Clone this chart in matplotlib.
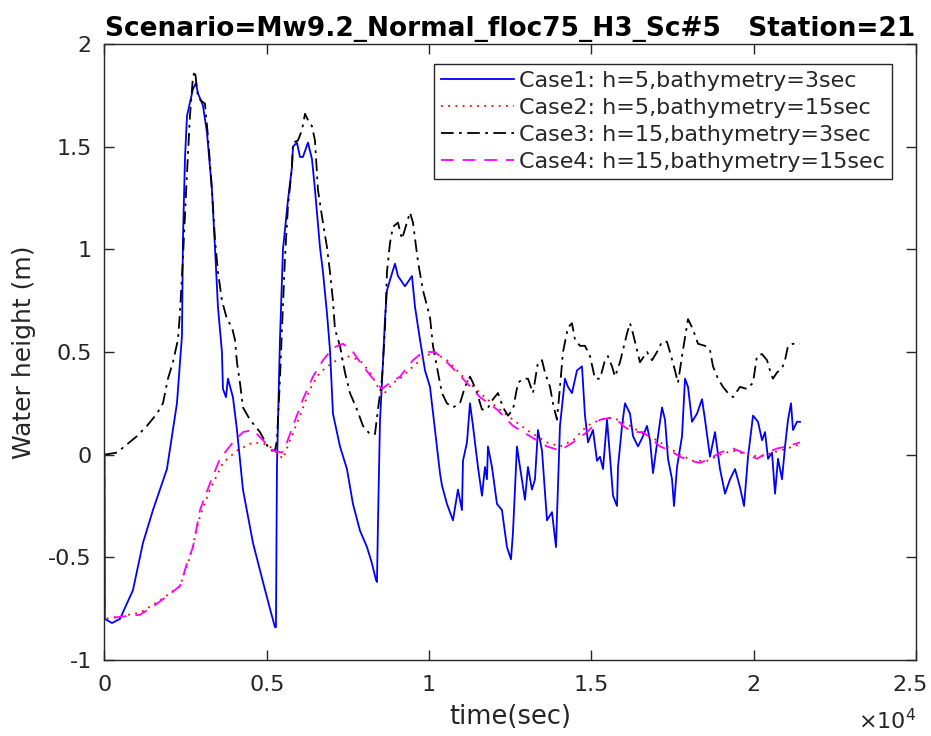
import numpy as np
import matplotlib
matplotlib.use("Agg")
import matplotlib.pyplot as plt
from matplotlib.ticker import FixedLocator
from matplotlib.transforms import ScaledTranslation

# ---- data (time in seconds, water height in metres) ----
t_case1 = [0, 15, 231, 477, 878, 1186, 1494, 1925, 2233, 2388, 2418, 2480, 2542, 2726,
           2819, 2880, 3034, 3157, 3311, 3404, 3496, 3619, 3650, 3743, 3804, 3958, 4082,
           4266, 4575, 4883, 5098, 5252, 5283, 5314, 5376, 5406, 5499, 5653, 5776, 5807,
           5930, 6023, 6115, 6269, 6392, 6485, 6639, 6731, 6854, 6947, 7039, 7255, 7470,
           7655, 7871, 8087, 8241, 8364, 8395, 8426, 8487, 8580, 8641, 8703, 8795, 8949,
           9042, 9257, 9473, 9566, 9720, 9874, 10028, 10182, 10336, 10397, 10551, 10736,
           10890, 11013, 11044, 11167, 11260, 11352, 11506, 11629, 11722, 11783, 11814,
           11937, 12091, 12245, 12399, 12523, 12584, 12707, 12800, 12954, 13046, 13169,
           13262, 13354, 13478, 13632, 13786, 13909, 14032, 14186, 14279, 14402, 14556,
           14710, 14803, 14895, 15049, 15173, 15265, 15358, 15481, 15573, 15666, 15789,
           15820, 15943, 16035, 16189, 16282, 16436, 16590, 16713, 16806, 16898, 17052,
           17176, 17268, 17360, 17484, 17545, 17638, 17792, 17884, 17977, 18100, 18254,
           18408, 18500, 18654, 18808, 18962, 19117, 19271, 19425, 19579, 19702, 19825,
           19979, 20133, 20257, 20349, 20441, 20564, 20657, 20749, 20872, 20965, 21057,
           21149, 21211, 21334, 21426]
h_case1 = [0.0, -0.80, -0.82, -0.80, -0.66, -0.43, -0.27, -0.07, 0.25, 0.58, 1.05, 1.44,
           1.65, 1.78, 1.81, 1.76, 1.70, 1.57, 1.29, 1.01, 0.72, 0.50, 0.32, 0.28, 0.37,
           0.28, 0.12, -0.17, -0.43, -0.62, -0.75, -0.84, -0.84, -0.05, 0.35, 0.56, 1.00,
           1.24, 1.40, 1.50, 1.52, 1.45, 1.45, 1.52, 1.44, 1.29, 1.01, 0.89, 0.69, 0.51,
           0.20, 0.04, -0.07, -0.24, -0.37, -0.45, -0.53, -0.61, -0.62, -0.33, 0.16, 0.45,
           0.66, 0.80, 0.85, 0.93, 0.87, 0.82, 0.87, 0.72, 0.56, 0.41, 0.33, 0.12, -0.09,
           -0.15, -0.24, -0.32, -0.17, -0.27, -0.03, 0.06, 0.25, 0.14, -0.06, -0.20, -0.06,
           -0.12, 0.04, -0.06, -0.24, -0.27, -0.45, -0.51, -0.38, 0.04, -0.06, -0.22, -0.06,
           -0.17, -0.12, 0.12, 0.02, -0.32, -0.28, -0.45, 0.14, 0.37, 0.33, 0.30, 0.41,
           0.43, 0.19, 0.06, 0.12, -0.03, -0.01, -0.07, 0.17, -0.01, -0.20, -0.25, -0.06,
           0.14, 0.25, 0.20, 0.09, 0.04, 0.09, 0.14, 0.07, -0.09, 0.09, 0.23, 0.17, -0.02,
           -0.12, -0.25, -0.06, 0.09, 0.37, 0.33, 0.16, 0.20, 0.27, 0.17, -0.01, 0.11,
           -0.07, -0.19, -0.12, -0.07, -0.16, -0.25, -0.01, 0.19, 0.16, 0.07, 0.11, -0.02,
           0.01, -0.19, -0.02, -0.12, 0.04, 0.17, 0.25, 0.12, 0.16, 0.16]

t_case2 = [0, 15, 1094, 1710, 2326, 2634, 2942, 3250, 3651, 4082, 4575, 5006, 5314, 5499,
           5715, 6023, 6331, 6639, 7039, 7471, 7871, 8179, 8426, 8580, 8888, 9103, 9720,
           10120, 10551, 11044, 11568, 12092, 12585, 13108, 13632, 14033, 14433, 14864,
           15265, 15665, 16097, 16497, 16898, 17329, 17729, 18130, 18562, 18962, 19362,
           19793, 20194, 20594, 21026, 21426]
h_case2 = [0.0, -0.80, -0.77, -0.71, -0.64, -0.50, -0.30, -0.17, -0.04, 0.02, 0.06, 0.05,
           0.01, -0.02, 0.07, 0.19, 0.32, 0.40, 0.45, 0.48, 0.46, 0.40, 0.33, 0.29, 0.35,
           0.37, 0.46, 0.50, 0.46, 0.38, 0.30, 0.23, 0.17, 0.11, 0.06, 0.04, 0.07, 0.14,
           0.17, 0.18, 0.15, 0.11, 0.08, 0.04, 0.00, -0.03, -0.03, 0.00, 0.02, 0.00, -0.01,
           0.01, 0.03, 0.05]

t_case3 = [0, 385, 693, 1001, 1309, 1617, 1802, 1956, 2110, 2264, 2326, 2418, 2542, 2634,
           2726, 2788, 2880, 3004, 3096, 3189, 3312, 3404, 3497, 3620, 3774, 3928, 4020,
           4082, 4174, 4267, 4482, 4790, 5099, 5253, 5314, 5407, 5468, 5561, 5653, 5776,
           5807, 5961, 6084, 6177, 6269, 6392, 6485, 6577, 6701, 6855, 6947, 7039, 7101,
           7255, 7409, 7563, 7779, 7964, 8179, 8333, 8426, 8549, 8641, 8703, 8795, 8888,
           9042, 9165, 9319, 9412, 9504, 9658, 9812, 10028, 10120, 10274, 10397, 10551,
           10736, 10952, 11106, 11260, 11352, 11476, 11630, 11784, 11969, 12123, 12277,
           12431, 12585, 12739, 12893, 13047, 13201, 13355, 13478, 13570, 13725, 13817,
           13940, 14033, 14125, 14279, 14402, 14495, 14649, 14803, 14957, 15111, 15265,
           15419, 15511, 15635, 15727, 15881, 15973, 16097, 16189, 16281, 16405, 16497,
           16713, 16867, 17021, 17175, 17329, 17421, 17575, 17668, 17791, 17883, 17976,
           18130, 18284, 18500, 18654, 18746, 18900, 19054, 19208, 19362, 19578, 19793,
           19978, 20101, 20256, 20410, 20502, 20594, 20718, 20872, 20964, 21057, 21211,
           21426]
h_case3 = [0.0, 0.01, 0.05, 0.09, 0.14, 0.20, 0.25, 0.37, 0.45, 0.56, 0.69, 0.96, 1.37,
           1.65, 1.84, 1.87, 1.74, 1.72, 1.71, 1.55, 1.29, 1.05, 0.89, 0.75, 0.66, 0.62,
           0.56, 0.45, 0.35, 0.23, 0.17, 0.11, 0.02, 0.02, 0.07, 0.37, 0.61, 0.96, 1.21,
           1.40, 1.52, 1.53, 1.58, 1.66, 1.63, 1.60, 1.53, 1.29, 1.16, 1.01, 0.89, 0.75,
           0.61, 0.53, 0.40, 0.30, 0.22, 0.14, 0.10, 0.10, 0.22, 0.37, 0.61, 0.89, 1.03,
           1.11, 1.13, 1.05, 1.13, 1.18, 1.13, 0.94, 0.80, 0.67, 0.53, 0.40, 0.30, 0.25,
           0.23, 0.25, 0.33, 0.38, 0.35, 0.30, 0.22, 0.22, 0.27, 0.30, 0.23, 0.19, 0.22,
           0.35, 0.37, 0.37, 0.30, 0.45, 0.46, 0.40, 0.33, 0.25, 0.17, 0.33, 0.50, 0.62,
           0.64, 0.56, 0.53, 0.53, 0.48, 0.37, 0.37, 0.46, 0.48, 0.43, 0.38, 0.45, 0.51,
           0.59, 0.64, 0.59, 0.51, 0.45, 0.50, 0.46, 0.50, 0.55, 0.55, 0.50, 0.41, 0.35,
           0.48, 0.57, 0.66, 0.61, 0.54, 0.53, 0.51, 0.43, 0.37, 0.33, 0.30, 0.28, 0.33,
           0.32, 0.35, 0.48, 0.49, 0.46, 0.41, 0.37, 0.40, 0.42, 0.46, 0.53, 0.54, 0.54]

t_case4 = [0, 15, 478, 1094, 1494, 1925, 2326, 2542, 2726, 2942, 3250, 3558, 3959, 4267,
           4575, 4883, 5191, 5468, 5622, 5807, 6115, 6423, 6731, 7039, 7347, 7656, 7964,
           8272, 8549, 8795, 9103, 9504, 9812, 10182, 10551, 11044, 11568, 12092, 12585,
           13108, 13632, 14033, 14433, 14864, 15265, 15573, 15789, 15973, 16281, 16590,
           16898, 17113, 17421, 17729, 18037, 18345, 18654, 18962, 19362, 19670, 20101,
           20410, 20718, 21026, 21426]
h_case4 = [0.0, -0.80, -0.79, -0.78, -0.74, -0.69, -0.64, -0.53, -0.45, -0.27, -0.14,
           -0.02, 0.06, 0.11, 0.12, 0.07, 0.02, 0.01, 0.06, 0.14, 0.27, 0.38, 0.46, 0.52,
           0.54, 0.50, 0.43, 0.37, 0.32, 0.35, 0.38, 0.46, 0.50, 0.50, 0.45, 0.37, 0.28,
           0.22, 0.14, 0.09, 0.04, 0.02, 0.06, 0.11, 0.17, 0.18, 0.17, 0.14, 0.11, 0.11,
           0.07, 0.04, 0.02, -0.01, -0.03, -0.04, -0.02, 0.01, 0.03, 0.01, -0.02, 0.01,
           0.03, 0.04, 0.06]

case_labels = ["Case1: h=5,bathymetry=3sec",
               "Case2: h=5,bathymetry=15sec",
               "Case3: h=15,bathymetry=3sec",
               "Case4: h=15,bathymetry=15sec"]

x_ticks = [0, 5000, 10000, 15000, 20000, 25000]
x_tick_labels = ["0", "0.5", "1", "1.5", "2", "2.5"]
y_ticks = [-1, -0.5, 0, 0.5, 1, 1.5, 2]
y_tick_labels = ["-1", "-0.5", "0", "0.5", "1", "1.5", "2"]

title_text = "Scenario=Mw9.2_Normal_floc75_H3_Sc#5   Station=21"

# ---- figure ----
plt.rcParams["font.family"] = ["DejaVu Sans"]
fig = plt.figure(figsize=(9.31, 7.36), dpi=100)
ax = fig.add_axes([0.1122, 0.1033, 0.8717, 0.8369])

ax.plot(t_case1, h_case1, color="#0000ff", lw=1.3, ls="-", label=case_labels[0])
ax.plot(t_case2, h_case2, color="#ff0000", lw=1.3, ls=(0, (1, 3)), label=case_labels[1])
ax.plot(t_case3, h_case3, color="black", lw=1.3, ls=(0, (7, 3, 1.5, 3)), label=case_labels[2])
ax.plot(t_case4, h_case4, color="#ff00ff", lw=1.3, ls=(0, (7, 5)), label=case_labels[3])

ax.set_xlim(0, 25000)
ax.set_ylim(-1, 2)
ax.xaxis.set_major_locator(FixedLocator(x_ticks))
ax.set_xticklabels(x_tick_labels)
ax.yaxis.set_major_locator(FixedLocator(y_ticks))
ax.set_yticklabels(y_tick_labels)

axis_col = "#262626"
for sp in ax.spines.values():
    sp.set_color(axis_col)
    sp.set_linewidth(1.0)
ax.tick_params(direction="in", length=7, width=1.0, colors=axis_col,
               top=True, right=True, labelsize=16, pad=9)
ax.tick_params(axis="x", pad=11)
for lbl in ax.get_xticklabels() + ax.get_yticklabels():
    lbl.set_color(axis_col)
# keep the last x tick label inside the figure edge
last = ax.get_xticklabels()[-1]
last.set_transform(last.get_transform() + ScaledTranslation(-6 / 100, 0, fig.dpi_scale_trans))

ax.set_xlabel("time(sec)", fontsize=18.5, color=axis_col, labelpad=6)
ax.set_ylabel("Water height (m)", fontsize=18, color=axis_col, labelpad=9)
ax.set_title(title_text, fontsize=19, fontweight="bold", color="black", pad=6)
ax.text(1.0, -0.078, r"$\times 10^{4}$", transform=ax.transAxes, ha="right",
        va="top", fontsize=16, color=axis_col)

leg = ax.legend(loc="upper right", bbox_to_anchor=(0.9704, 0.9675), borderaxespad=0,
                fontsize=16, frameon=True, fancybox=False, framealpha=1,
                edgecolor=axis_col, handlelength=3.3, handletextpad=0.25,
                borderpad=0.3, labelspacing=0.32)
leg.get_frame().set_linewidth(1.0)
for txt in leg.get_texts():
    txt.set_color(axis_col)

fig.savefig("out.png", dpi=100, facecolor="white")
